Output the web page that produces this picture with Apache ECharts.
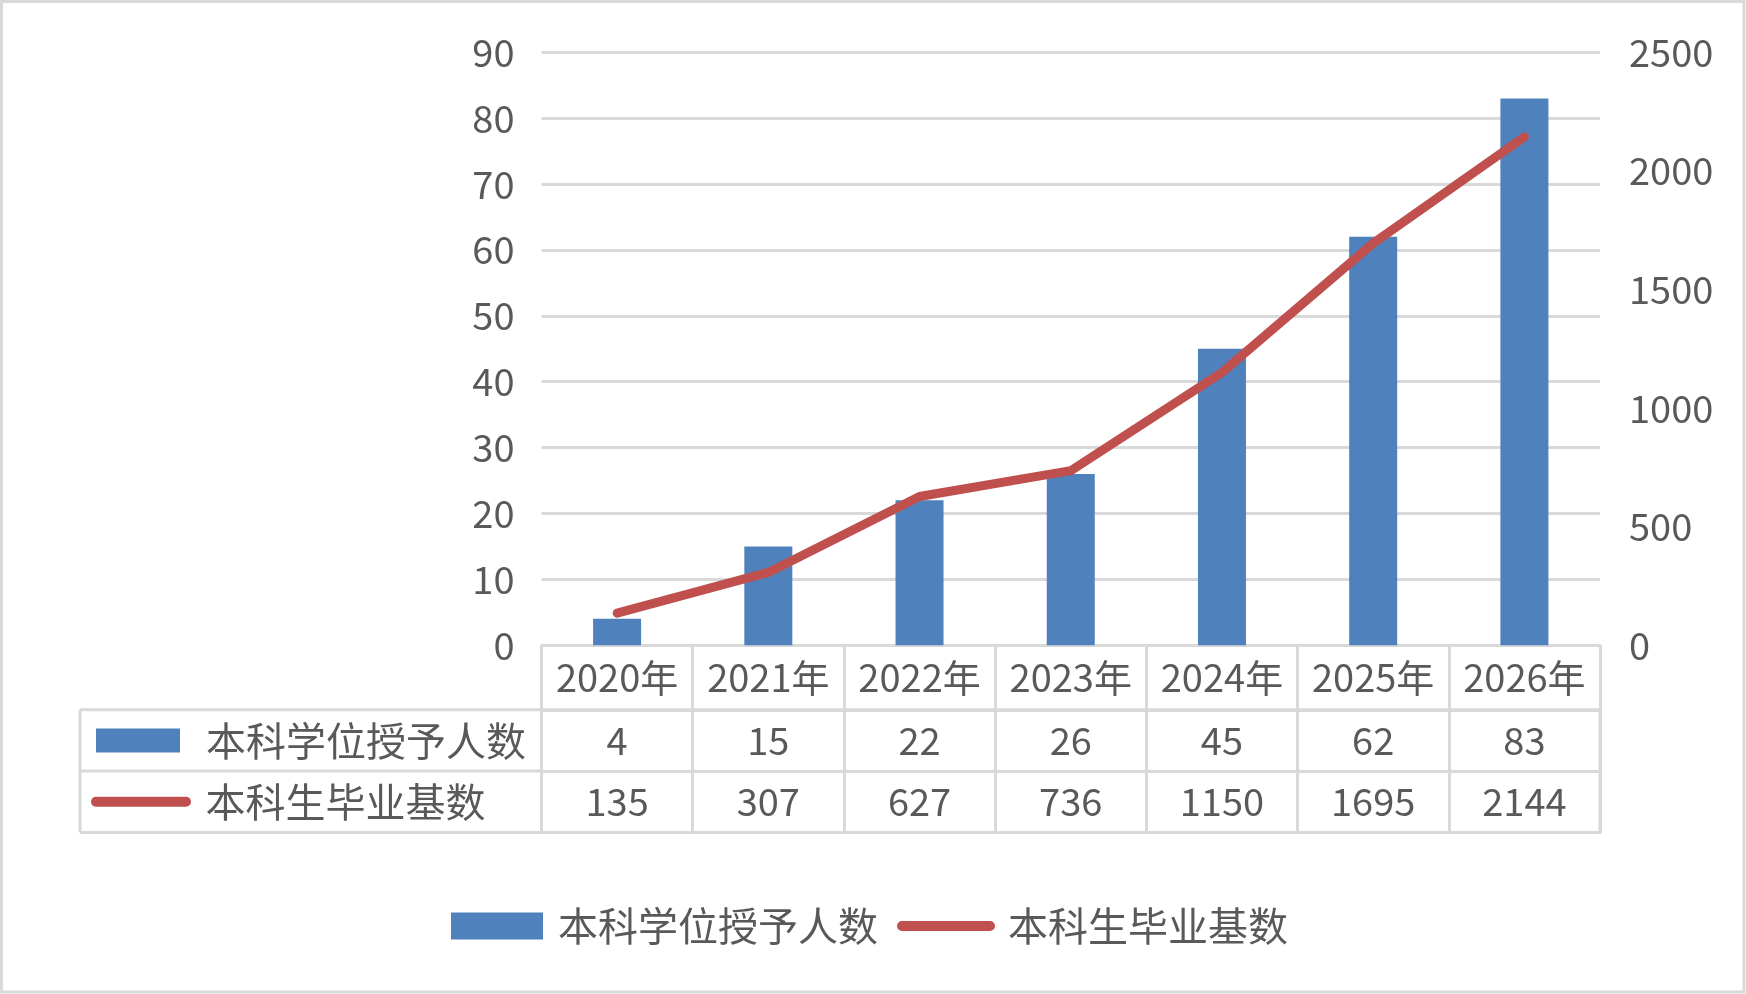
<!DOCTYPE html>
<html>
<head>
<meta charset="utf-8">
<script src="https://cdn.jsdelivr.net/npm/echarts@6/dist/echarts.min.js"></script>
<style>
  html, body { margin: 0; padding: 0; background: #fff; }
  #main { width: 1746px; height: 994px; }
</style>
</head>
<body>
<div id="main"></div>
<script>
// data
var years = ["2020年", "2021年", "2022年", "2023年", "2024年", "2025年", "2026年"];
var degreeCount = [4, 15, 22, 26, 45, 62, 83];
var gradBase = [135, 307, 627, 736, 1150, 1695, 2144];
var barName = "本科学位授予人数";
var lineName = "本科生毕业基数";

var FONT = "Noto Sans CJK SC";
var TXT = "#595959";
var GRID_LINE = "#D9D9D9";
var BLUE = "#4F81BD";
var RED = "#C0504D";
// rounded thick stroke used as the line's legend key
var PILL = "path://M5,0 L95,0 A5,5 0 0 1 95,10 L5,10 A5,5 0 0 1 5,0 Z";

// table geometry
var plotLeft = 541.5, plotRight = 1600, plotTop = 52.4, plotBottom = 645.2;
var row1 = 709.8, row2 = 771, row3 = 832.4, tableLeft = 80;

var myChart = echarts.init(document.getElementById("main"));

// cell values of the data table: [column, row, value]
var cellData = [];
degreeCount.forEach(function (v, i) { cellData.push([i, 0, v]); });
gradBase.forEach(function (v, i) { cellData.push([i, 1, v]); });

function legendText(pad) {
  return { fontFamily: FONT, fontSize: 40, color: TXT, lineHeight: 40, padding: [0, 0, 0, pad] };
}

var option = {
  animation: false,
  textStyle: { fontFamily: FONT, color: TXT },
  grid: [
    { left: plotLeft, right: 1746 - plotRight, top: plotTop, bottom: 994 - plotBottom },
    {
      left: plotLeft, right: 1746 - plotRight, top: row1, height: row3 - row1,
      show: true, borderColor: GRID_LINE, borderWidth: 3, backgroundColor: "transparent"
    }
  ],
  legend: [
    // bottom legend
    {
      data: [{ name: barName, icon: "rect" }],
      left: 451, top: 906, padding: 0,
      itemWidth: 92, itemHeight: 27,
      textStyle: legendText(10)
    },
    {
      data: [{ name: lineName, icon: PILL }],
      left: 897, top: 906, padding: 0,
      itemWidth: 98, itemHeight: 10,
      textStyle: legendText(8)
    },
    // legend keys inside the data table
    {
      data: [{ name: barName, icon: "rect" }],
      left: 96, top: row1 + (row2 - row1) / 2 - 20, padding: 0,
      itemWidth: 84, itemHeight: 24,
      textStyle: legendText(21)
    },
    {
      data: [{ name: lineName, icon: PILL }],
      left: 91, top: row2 + (row3 - row2) / 2 - 20, padding: 0,
      itemWidth: 101, itemHeight: 10,
      textStyle: legendText(9)
    }
  ],
  xAxis: [
    {
      type: "category", gridIndex: 0, data: years,
      axisLine: { lineStyle: { color: GRID_LINE, width: 3 } },
      axisTick: { show: true, inside: false, length: row1 - plotBottom, interval: 0, lineStyle: { color: GRID_LINE, width: 3 } },
      axisLabel: { fontFamily: FONT, fontSize: 38, color: TXT, margin: 32, verticalAlign: "middle", interval: 0 }
    },
    {
      type: "category", gridIndex: 1, data: years,
      axisLine: { show: false }, axisTick: { show: false }, axisLabel: { show: false },
      splitLine: { show: true, interval: 0, lineStyle: { color: GRID_LINE, width: 3 } }
    }
  ],
  yAxis: [
    {
      type: "value", gridIndex: 0, min: 0, max: 90, interval: 10,
      axisLine: { show: false }, axisTick: { show: false },
      axisLabel: { fontFamily: FONT, fontSize: 38, color: TXT, margin: 27 },
      splitLine: { lineStyle: { color: GRID_LINE, width: 3 } }
    },
    {
      type: "value", gridIndex: 0, min: 0, max: 2500, interval: 500, position: "right",
      axisLine: { show: false }, axisTick: { show: false },
      axisLabel: { fontFamily: FONT, fontSize: 38, color: TXT, margin: 29, formatter: function (v) { return String(v); } },
      splitLine: { show: false }
    },
    {
      type: "category", gridIndex: 1, data: ["a", "b"], inverse: true,
      axisLine: { show: false }, axisTick: { show: false }, axisLabel: { show: false },
      splitLine: { show: true, interval: 0, lineStyle: { color: GRID_LINE, width: 3 } }
    }
  ],
  series: [
    {
      name: barName, type: "bar", xAxisIndex: 0, yAxisIndex: 0,
      data: degreeCount, barWidth: 48,
      itemStyle: { color: BLUE }
    },
    {
      name: lineName, type: "line", xAxisIndex: 0, yAxisIndex: 1,
      data: gradBase, symbol: "none", showSymbol: false,
      lineStyle: { color: RED, width: 9, cap: "round", join: "round" },
      itemStyle: { color: RED }
    },
    {
      name: "table", type: "scatter", xAxisIndex: 1, yAxisIndex: 2,
      data: cellData, symbolSize: 1, silent: true,
      itemStyle: { color: "rgba(0,0,0,0)", opacity: 1 },
      label: {
        show: true, position: "inside",
        fontFamily: FONT, fontSize: 38, color: TXT, opacity: 1,
        formatter: function (p) { return p.value[2]; }
      }
    }
  ],
  graphic: [
    // outer chart border
    { type: "rect", shape: { x: 1.5, y: 1.5, width: 1742.5, height: 990.5 }, style: { fill: "none", stroke: GRID_LINE, lineWidth: 3 }, silent: true },
    // legend column of the data table
    { type: "line", shape: { x1: tableLeft, y1: row1, x2: plotLeft, y2: row1 }, style: { stroke: GRID_LINE, lineWidth: 3 }, silent: true },
    { type: "line", shape: { x1: tableLeft, y1: row2, x2: plotLeft, y2: row2 }, style: { stroke: GRID_LINE, lineWidth: 3 }, silent: true },
    { type: "line", shape: { x1: tableLeft, y1: row3, x2: plotLeft, y2: row3 }, style: { stroke: GRID_LINE, lineWidth: 3 }, silent: true },
    { type: "line", shape: { x1: tableLeft, y1: row1, x2: tableLeft, y2: row3 }, style: { stroke: GRID_LINE, lineWidth: 3 }, silent: true }
  ]
};

myChart.setOption(option);
</script>
</body>
</html>
